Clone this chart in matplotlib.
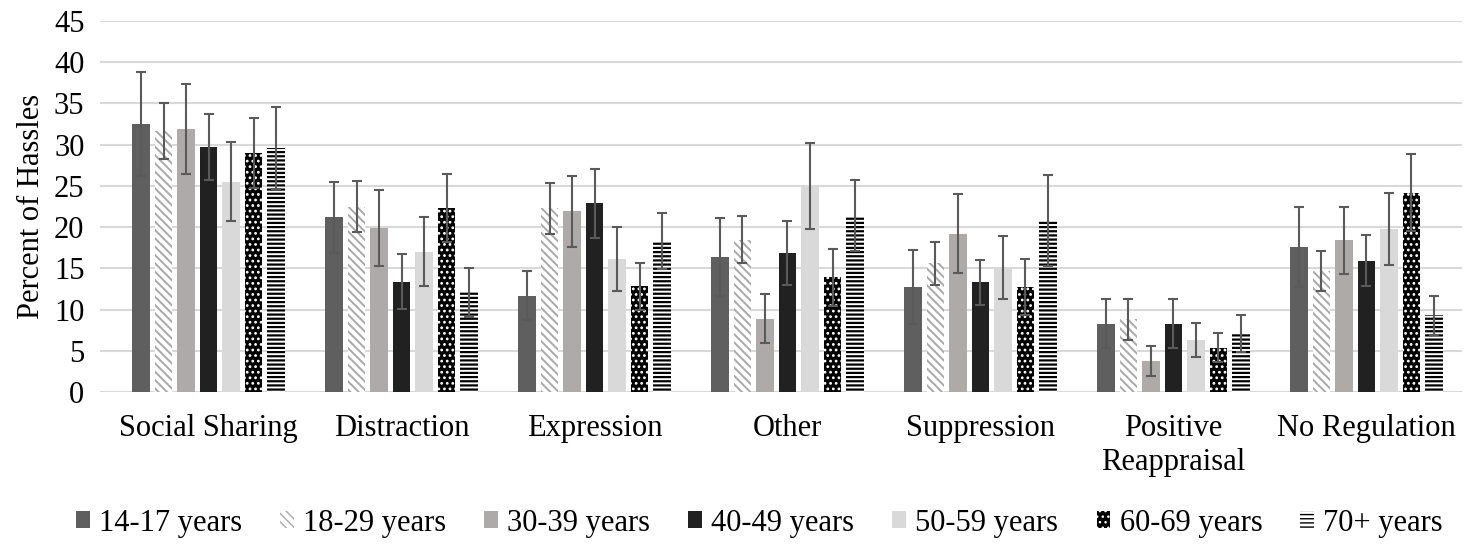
import numpy as np
import matplotlib
matplotlib.use('Agg')
import matplotlib.pyplot as plt
from matplotlib.patches import Patch

plt.rcParams['font.family'] = ['Liberation Serif', 'DejaVu Serif']

# data: mean percent of hassles and error half-widths
categories = ['Social Sharing', 'Distraction', 'Expression', 'Other',
              'Suppression', 'Positive\nReappraisal', 'No Regulation']
groups = ['14-17 years', '18-29 years', '30-39 years', '40-49 years',
          '50-59 years', '60-69 years', '70+ years']

age_14_17 = [32.5, 21.2, 11.7, 16.4, 12.7, 8.3, 17.6]
age_18_29 = [31.7, 22.5, 22.3, 18.5, 15.6, 8.8, 14.7]
age_30_39 = [31.9, 19.9, 21.9, 8.9, 19.2, 3.8, 18.4]
age_40_49 = [29.7, 13.4, 22.9, 16.9, 13.3, 8.3, 15.9]
age_50_59 = [25.5, 17.0, 16.1, 25.0, 15.1, 6.3, 19.8]
age_60_69 = [29.0, 22.3, 12.8, 13.9, 12.7, 5.4, 24.2]
age_70_up = [29.6, 12.1, 18.3, 21.4, 20.8, 7.1, 9.3]

err_14_17 = [6.3, 4.3, 3.0, 4.7, 4.5, 3.0, 4.9]
err_18_29 = [3.4, 3.1, 3.1, 2.9, 2.6, 2.5, 2.4]
err_30_39 = [5.5, 4.6, 4.3, 3.0, 4.8, 1.8, 4.1]
err_40_49 = [4.0, 3.3, 4.2, 3.9, 2.7, 3.0, 3.1]
err_50_59 = [4.8, 4.2, 3.9, 5.2, 3.8, 2.1, 4.4]
err_60_69 = [4.2, 4.1, 2.9, 3.5, 3.4, 1.8, 4.7]
err_70_up = [5.0, 3.0, 3.4, 4.3, 5.5, 2.2, 2.4]

values = [age_14_17, age_18_29, age_30_39, age_40_49, age_50_59, age_60_69, age_70_up]
errors = [err_14_17, err_18_29, err_30_39, err_40_49, err_50_59, err_60_69, err_70_up]

# (facecolor, hatch colour, hatch, hatch linewidth)
styles = [
    ('#5f5f5f', '#5f5f5f', None, 1.0),
    ('white', '#a9a9a9', '\\\\\\\\', 1.4),
    ('#aeaaaa', '#aeaaaa', None, 1.0),
    ('#212121', '#212121', None, 1.0),
    ('#d9d9d9', '#d9d9d9', None, 1.0),
    ('black', 'white', '...', 1.2),
    ('white', 'black', '----', 1.6),
]

fig = plt.figure(figsize=(14.66, 5.46), dpi=100)
ax = fig.add_axes([0.068, 0.282, 0.929, 0.6795])

x = np.arange(len(categories))
step = 0.1166
width = 0.0907

handles = []
for i, (vals, errs) in enumerate(zip(values, errors)):
    fc, hc, hatch, hlw = styles[i]
    pos = x + (i - 3) * step
    with plt.rc_context({'hatch.linewidth': hlw}):
        bars = ax.bar(pos, vals, width, color=fc, edgecolor=hc, linewidth=0,
                      hatch=hatch, zorder=2)
        try:
            for b in bars:
                b.set_hatch_linewidth(hlw)
        except AttributeError:
            pass
        handles.append(Patch(facecolor=fc, edgecolor=hc, hatch=hatch, linewidth=0))
    ax.errorbar(pos, vals, yerr=errs, fmt='none', ecolor='#5a5a5a',
                elinewidth=1.5, capsize=3.6, capthick=1.5, zorder=3)

ax.set_xlim(-0.564, 6.493)
ax.set_ylim(0, 45)
ax.set_yticks(np.arange(0, 46, 5))
ax.set_xticks(x)
ax.set_xticklabels(categories)
ax.grid(axis='y', color='#d9d9d9', linewidth=1.5, zorder=0)
ax.set_axisbelow(True)
for s in ax.spines.values():
    s.set_visible(False)
ax.tick_params(axis='both', length=0, labelsize=22, colors='black')
ax.tick_params(axis='x', pad=16)
ax.tick_params(axis='y', pad=11)
ax.set_ylabel('Percent of Hassles', fontsize=22, labelpad=6)

fig.legend(handles, groups, loc='center', bbox_to_anchor=(0.518, 0.042), ncol=7,
           frameon=False, fontsize=22, handlelength=0.45, handleheight=0.45,
           handletextpad=0.3, columnspacing=1.25)

fig.savefig('out.png', dpi=100)
